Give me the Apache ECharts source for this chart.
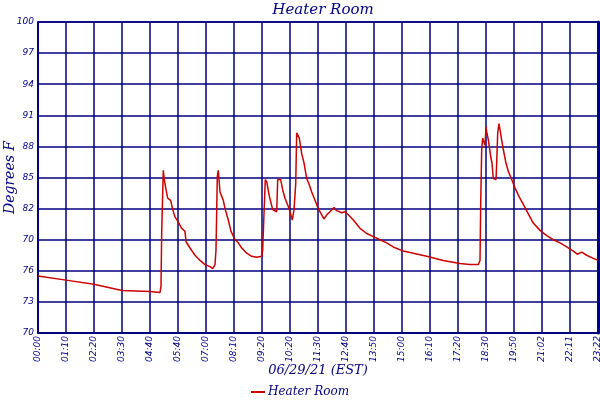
<!DOCTYPE html>
<html>
<head>
<meta charset="utf-8">
<script src="https://cdn.jsdelivr.net/npm/echarts@6/dist/echarts.min.js"></script>
<style>
  html, body { margin: 0; padding: 0; background: #fff; }
  #chart { width: 600px; height: 400px; }
</style>
</head>
<body>
<div id="chart"></div>
<script>
// tick labels as printed on the original chart
var xLabels = ['00:00', '01:10', '02:20', '03:30', '04:40', '05:40', '07:00', '08:10', '09:20', '10:20',
    '11:30', '12:40', '13:50', '15:00', '16:10', '17:20', '18:30', '19:50', '21:02', '22:11', '23:22'];
var yLabels = ['70', '73', '76', '70', '82', '85', '88', '91', '94', '97', '100'];
var yBase = 70;

// position of each reading along the x axis (in tick steps) and temperature (deg F)
var tickPos = [
    0, 1, 2, 3, 4, 4.357, 4.393, 4.418, 4.475, 4.511, 4.561, 4.632, 4.739, 4.811, 4.893, 5.011,
    5.132, 5.25, 5.286, 5.429, 5.607, 5.786, 5.964, 6.143, 6.239, 6.321, 6.357, 6.404, 6.439, 6.5,
    6.618, 6.679, 6.796, 6.893, 7.036, 7.154, 7.275, 7.454, 7.632, 7.811, 7.989, 8.025, 8.071, 8.118,
    8.168, 8.261, 8.382, 8.525, 8.561, 8.668, 8.739, 8.821, 8.939, 9.0, 9.082, 9.143, 9.204, 9.239,
    9.332, 9.418, 9.5, 9.596, 9.689, 9.775, 9.893, 10.011, 10.132, 10.214, 10.311, 10.429, 10.571,
    10.668, 10.846, 10.964, 11.082, 11.261, 11.5, 11.739, 11.975, 12.214, 12.454, 12.689, 13.046,
    13.404, 13.882, 14.475, 15.071, 15.429, 15.725, 15.786, 15.811, 15.846, 15.882, 15.929, 15.964,
    16.0, 16.025, 16.071, 16.118, 16.168, 16.214, 16.261, 16.357, 16.382, 16.418, 16.464, 16.511,
    16.561, 16.618, 16.704, 16.796, 16.918, 17.036, 17.154, 17.332, 17.511, 17.689, 17.929, 18.168,
    18.404, 18.643, 18.882, 19.118, 19.261, 19.418, 19.596, 19.832, 20
];
var temps = [
    75.5, 75.1, 74.7, 74.1, 74.0, 73.9, 74.5, 79.8, 85.7, 84.8, 84.0, 83.0, 82.8, 81.9, 81.2, 80.7,
    80.1, 79.8, 78.8, 78.2, 77.5, 77.0, 76.6, 76.4, 76.2, 76.6, 78.0, 85.1, 85.7, 83.6,
    82.8, 82.0, 80.9, 79.8, 79.0, 78.7, 78.2, 77.7, 77.4, 77.3, 77.4, 78.0, 81.5, 84.8,
    84.6, 83.2, 81.9, 81.7, 84.8, 84.8, 83.8, 83.0, 82.2, 81.7, 80.9, 81.9, 84.4, 89.3,
    88.8, 87.3, 86.4, 84.9, 84.3, 83.6, 82.8, 82.0, 81.4, 81.0, 81.4, 81.7, 82.1,
    81.8, 81.6, 81.7, 81.4, 80.9, 80.1, 79.6, 79.3, 79.0, 78.7, 78.3, 77.9,
    77.7, 77.4, 77.0, 76.7, 76.6, 76.6, 77.0, 82.5, 87.7, 88.8, 88.7, 88.1,
    89.9, 89.4, 88.8, 88.0, 87.0, 86.4, 84.9, 84.8, 86.4, 89.3, 90.2, 90.1,
    88.6, 87.7, 86.5, 85.6, 84.8, 84.0, 83.3, 82.4, 81.5, 80.6, 79.9, 79.4,
    79.0, 78.7, 78.3, 77.9, 77.6, 77.8, 77.5, 77.2, 77.0
];

var navy = '#000080';
var lineRed = '#cc0000';
var serif = '"DejaVu Serif", "Liberation Serif", serif';
var sans = '"DejaVu Sans", Verdana, sans-serif';

var points = [];
for (var i = 0; i < tickPos.length; i++) {
    points.push([tickPos[i], temps[i] - yBase]);
}

var options = {
    animation: false,
    backgroundColor: '#fff',
    title: {
        text: 'Heater Room',
        left: 318,
        top: -2,
        textAlign: 'center',
        textStyle: { color: navy, fontFamily: serif, fontStyle: 'italic', fontWeight: 'normal', fontSize: 15 }
    },
    legend: {
        data: ['Heater Room'],
        bottom: -3,
        left: 'center',
        icon: 'rect',
        itemWidth: 14,
        itemHeight: 2,
        itemGap: 4,
        textStyle: { color: navy, fontFamily: serif, fontStyle: 'italic', fontSize: 12, padding: [0, 0, 0, -2] }
    },
    grid: {
        left: 38, right: 2, top: 22, bottom: 67,
        containLabel: false,
        outerBoundsMode: 'none',
        show: true,
        borderColor: navy,
        borderWidth: 1.5
    },
    xAxis: {
        type: 'value',
        min: 0,
        max: 20,
        interval: 1,
        name: '06/29/21 (EST)',
        nameLocation: 'middle',
        nameGap: 31,
        nameMoveOverlap: false,
        nameTextStyle: { color: navy, fontFamily: serif, fontStyle: 'italic', fontSize: 13 },
        axisLine: { lineStyle: { color: navy, width: 1.5 } },
        axisTick: { show: false },
        splitLine: { show: true, lineStyle: { color: navy, width: 1.5 } },
        axisLabel: {
            rotate: 90,
            margin: 3,
            color: navy,
            fontFamily: sans,
            fontStyle: 'italic',
            fontSize: 9,
            showMinLabel: true,
            showMaxLabel: true,
            formatter: function (v) { return xLabels[Math.round(v)]; }
        }
    },
    yAxis: [{
        type: 'value',
        min: 0,
        max: 30,
        interval: 3,
        name: 'Degrees F',
        nameLocation: 'middle',
        nameGap: 21,
        nameMoveOverlap: false,
        nameTextStyle: { color: navy, fontFamily: serif, fontStyle: 'italic', fontSize: 14 },
        axisLine: { show: true, lineStyle: { color: navy, width: 1.5 } },
        axisTick: { show: false },
        splitLine: { show: true, lineStyle: { color: navy, width: 1.5 } },
        axisLabel: {
            margin: 4,
            color: navy,
            fontFamily: sans,
            fontStyle: 'italic',
            fontSize: 9,
            formatter: function (v) { return yLabels[Math.round(v / 3)]; }
        }
    }, {
        type: 'value',
        position: 'right',
        axisLine: { show: true, lineStyle: { color: navy, width: 3 } },
        axisTick: { show: false },
        axisLabel: { show: false },
        splitLine: { show: false }
    }],
    series: [{
        name: 'Heater Room',
        type: 'line',
        data: points,
        showSymbol: false,
        symbol: 'none',
        color: lineRed,
        lineStyle: { color: lineRed, width: 1.5 }
    }]
};

var chart = echarts.init(document.getElementById('chart'));
chart.setOption(options);
</script>
</body>
</html>
